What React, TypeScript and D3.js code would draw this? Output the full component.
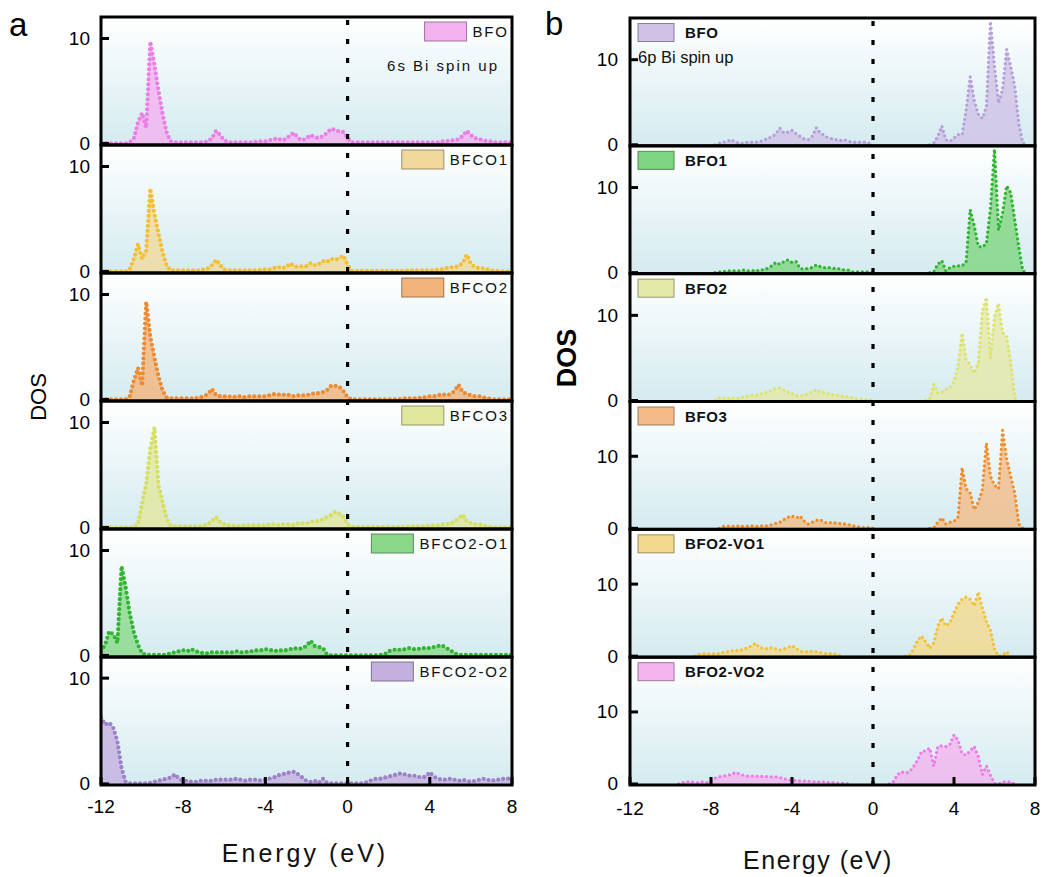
import React, { useMemo } from "react";
import * as d3 from "d3";

// ---------------- DATA ----------------
// energy grid (eV), step 0.2 from -12 to 8
const energies: number[] = d3.range(101).map((i) => +(-12 + i * 0.2).toFixed(1));

const namesA = ["BFO", "BFCO1", "BFCO2", "BFCO3", "BFCO2-O1", "BFCO2-O2"];
const namesB = ["BFO", "BFO1", "BFO2", "BFO3", "BFO2-VO1", "BFO2-VO2"];
const xTicks = [-12, -8, -4, 0, 4, 8];
const yTicks = [0, 10];
const annotationA = "6s Bi spin up";
const annotationB = "6p Bi spin up";

// Panel a: 6s Bi spin up
const a_BFO = [
  0, 0, 0, 0, 0, 0, 0, 0.1, 0.5, 2.0,
  2.9, 1.5, 9.7, 7.5, 5.0, 2.8, 1.0, 0.2, 0.1, 0.1,
  0.1, 0.1, 0.1, 0.1, 0.1, 0.1, 0.2, 0.5, 1.2, 0.8,
  0.3, 0.1, 0.1, 0.1, 0.1, 0.1, 0.1, 0.1, 0.2, 0.2,
  0.2, 0.3, 0.4, 0.5, 0.3, 0.4, 0.8, 1.0, 0.5, 0.3,
  0.5, 0.8, 0.6, 0.5, 0.7, 1.0, 1.4, 1.3, 1.1, 1.1,
  0.5, 0.1, 0.1, 0.1, 0.1, 0.1, 0.1, 0.1, 0.1, 0.1,
  0.1, 0.1, 0.1, 0.1, 0.1, 0.1, 0.1, 0.1, 0.1, 0.1,
  0.1, 0.1, 0.1, 0.2, 0.2, 0.3, 0.3, 0.4, 0.7, 1.2,
  0.8, 0.5, 0.4, 0.3, 0.2, 0.2, 0.1, 0.1, 0.1, 0.1,
  0.1,
];
const a_BFCO1 = [
  0, 0, 0, 0, 0, 0, 0, 0.2, 1.2, 2.6,
  1.2, 2.0, 7.9, 5.5, 3.6, 1.8, 0.5, 0.1, 0.1, 0.1,
  0.1, 0.1, 0.1, 0.1, 0.1, 0.2, 0.3, 0.6, 1.1, 0.6,
  0.2, 0.1, 0.1, 0.1, 0.1, 0.1, 0.1, 0.1, 0.1, 0.2,
  0.2, 0.2, 0.3, 0.45, 0.3, 0.4, 0.76, 0.5, 0.4, 0.5,
  0.5, 0.8, 0.6, 0.7, 1.0, 0.9, 1.2, 1.1, 1.3, 1.5,
  0.6, 0.05, 0.05, 0.05, 0.05, 0.05, 0.05, 0.05, 0.05, 0.05,
  0.05, 0.05, 0.05, 0.05, 0.05, 0.1, 0.1, 0.1, 0.1, 0.1,
  0.1, 0.1, 0.2, 0.2, 0.3, 0.4, 0.4, 0.5, 0.8, 1.6,
  0.7, 0.4, 0.3, 0.3, 0.2, 0.1, 0.05, 0.05, 0, 0,
  0,
];
const a_BFCO2 = [
  0, 0, 0, 0, 0, 0, 0, 0.3, 1.8, 3.0,
  1.3, 9.3, 6.0, 4.0, 2.2, 0.8, 0.2, 0.1, 0.1, 0.1,
  0.1, 0.1, 0.1, 0.1, 0.2, 0.3, 0.5, 1.0, 0.4, 0.3,
  0.3, 0.3, 0.2, 0.3, 0.3, 0.2, 0.3, 0.3, 0.3, 0.3,
  0.3, 0.4, 0.5, 0.5, 0.4, 0.5, 0.4, 0.3, 0.4, 0.4,
  0.4, 0.5, 0.6, 0.6, 0.7, 0.9, 1.3, 1.3, 1.2, 0.8,
  0.2, 0, 0, 0, 0, 0, 0, 0, 0, 0,
  0, 0, 0, 0.05, 0.1, 0.1, 0.1, 0.1, 0.2, 0.2,
  0.3, 0.3, 0.4, 0.5, 0.4, 0.5, 0.8, 1.4, 0.7, 0.5,
  0.4, 0.3, 0.3, 0.2, 0.1, 0.05, 0, 0, 0, 0,
  0,
];
const a_BFCO3 = [
  0, 0, 0, 0, 0, 0, 0, 0, 0.05, 0.3,
  2.3, 4.2, 7.5, 9.5, 4.0, 2.4, 0.8, 0.2, 0.1, 0.1,
  0.1, 0.1, 0.1, 0.1, 0.1, 0.2, 0.3, 0.6, 1.0, 0.5,
  0.3, 0.2, 0.2, 0.1, 0.1, 0.2, 0.2, 0.2, 0.2, 0.2,
  0.2, 0.3, 0.3, 0.2, 0.3, 0.3, 0.3, 0.2, 0.4, 0.4,
  0.4, 0.5, 0.6, 0.6, 0.8, 1.0, 1.2, 1.5, 1.3, 1.0,
  0.3, 0.05, 0.05, 0.05, 0.05, 0.05, 0.05, 0.05, 0.05, 0.05,
  0.05, 0.05, 0.05, 0.05, 0.05, 0.1, 0.1, 0.1, 0.1, 0.1,
  0.2, 0.2, 0.2, 0.3, 0.3, 0.4, 0.5, 0.9, 1.2, 0.6,
  0.4, 0.3, 0.3, 0.2, 0.1, 0.05, 0, 0, 0, 0,
  0,
];
const a_BFCO2_O1 = [
  0.4, 1.0, 2.3, 2.0, 1.2, 8.5, 6.5, 4.0, 2.2, 1.0,
  0.2, 0.05, 0.05, 0.05, 0.05, 0.05, 0.1, 0.2, 0.3, 0.4,
  0.5, 0.4, 0.6, 0.4, 0.3, 0.2, 0.2, 0.3, 0.3, 0.3,
  0.3, 0.3, 0.3, 0.4, 0.3, 0.3, 0.4, 0.4, 0.5, 0.5,
  0.6, 0.5, 0.5, 0.4, 0.5, 0.5, 0.6, 0.7, 0.6, 0.7,
  0.9, 1.4, 0.9, 0.8, 0.7, 0.1, 0, 0, 0, 0,
  0, 0, 0, 0, 0, 0, 0, 0, 0.05, 0.1,
  0.4, 0.5, 0.6, 0.5, 0.6, 0.7, 0.6, 0.6, 0.7, 0.7,
  0.7, 0.8, 0.9, 0.95, 0.7, 0.5, 0.2, 0.05, 0.05, 0.05,
  0.05, 0.05, 0.05, 0.05, 0.05, 0.05, 0.05, 0.05, 0.05, 0.05,
  0.05,
];
const a_BFCO2_O2 = [
  6.3, 5.6, 5.8, 5.3, 4.0, 1.5, 0.2, 0.05, 0.05, 0.05,
  0.05, 0.05, 0.1, 0.2, 0.3, 0.4, 0.5, 0.6, 0.9, 0.5,
  0.3, 0.3, 0.2, 0.2, 0.3, 0.3, 0.3, 0.3, 0.4, 0.4,
  0.4, 0.4, 0.4, 0.5, 0.4, 0.3, 0.4, 0.4, 0.4, 0.3,
  0.4, 0.5, 0.6, 0.8, 0.9, 1.0, 1.1, 1.15, 0.9, 0.6,
  0.3, 0.2, 0.3, 0.1, 0.5, 0.1, 0.05, 0.05, 0.05, 0.05,
  0.05, 0.05, 0.05, 0.05, 0.1, 0.2, 0.4, 0.5, 0.5, 0.6,
  0.7, 0.8, 0.9, 1.0, 0.9, 0.8, 0.8, 0.7, 0.6, 0.7,
  1.1, 0.7, 0.5, 0.4, 0.4, 0.5, 0.4, 0.3, 0.4, 0.3,
  0.2, 0.3, 0.4, 0.5, 0.4, 0.3, 0.4, 0.4, 0.5, 0.5,
  0.6,
];

// Panel b: 6p Bi spin up
const b_BFO = [
  0, 0, 0, 0, 0, 0, 0, 0, 0, 0,
  0, 0, 0, 0, 0, 0, 0, 0, 0, 0,
  0, 0, 0.2, 0.3, 0.4, 0.6, 0.3, 0.2, 0.2, 0.3,
  0.3, 0.3, 0.4, 0.5, 0.8, 0.9, 1.3, 1.95, 1.4, 1.5,
  1.7, 1.3, 1.0, 0.7, 0.6, 1.0, 2.0, 1.4, 1.1, 0.8,
  0.7, 0.6, 0.5, 0.6, 0.4, 0.3, 0.3, 0.3, 0.3, 0.2,
  0, 0, 0, 0, 0, 0, 0, 0, 0, 0,
  0, 0, 0, 0, 0, 0.2, 1.0, 2.2, 0.6, 0.4,
  0.8, 1.2, 1.2, 4.1, 8.0, 5.2, 3.6, 3.1, 4.5, 14.5,
  9.2, 4.9, 6.5, 11.2, 9.2, 6.9, 2.5, 0.2, 0, 0,
  0,
];
const b_BFO1 = [
  0, 0, 0, 0, 0, 0, 0, 0, 0, 0,
  0, 0, 0, 0, 0, 0, 0, 0, 0, 0,
  0, 0, 0.1, 0.1, 0.2, 0.2, 0.2, 0.2, 0.3, 0.2,
  0.2, 0.3, 0.2, 0.4, 0.5, 0.8, 1.2, 1.0, 1.3, 1.5,
  1.2, 1.3, 0.5, 0.4, 0.5, 0.6, 0.9, 0.7, 0.6, 0.6,
  0.5, 0.5, 0.4, 0.3, 0.3, 0.1, 0.1, 0.1, 0.1, 0.1,
  0, 0, 0, 0, 0, 0, 0, 0, 0, 0,
  0, 0, 0, 0, 0, 0.1, 1.0, 1.4, 0.2, 0.6,
  0.75, 0.8, 0.8, 1.3, 7.4, 5.5, 3.1, 3.0, 3.4, 7.5,
  14.5, 5.0, 7.0, 10.2, 9.4, 6.2, 3.0, 0.2, 0, 0,
  0,
];
const b_BFO2 = [
  0, 0, 0, 0, 0, 0, 0, 0, 0, 0,
  0, 0, 0, 0, 0, 0, 0, 0, 0, 0,
  0, 0, 0.3, 0.3, 0.2, 0.3, 0.3, 0.2, 0.4, 0.5,
  0.6, 0.6, 0.7, 0.9, 1.0, 1.2, 1.4, 1.47, 1.2, 1.0,
  0.8, 0.6, 0.5, 0.6, 0.8, 1.0, 1.3, 1.0, 0.9, 0.8,
  0.7, 0.6, 0.5, 0.5, 0.4, 0.3, 0.2, 0.1, 0.1, 0.1,
  0, 0, 0, 0, 0, 0, 0, 0, 0, 0,
  0, 0, 0, 0, 0.2, 1.9, 0.9, 1.0, 1.3, 1.5,
  2.2, 4.0, 7.9, 4.8, 4.2, 3.2, 4.4, 10.5, 12.1, 5.0,
  9.8, 11.4, 8.0, 7.5, 4.5, 0.3, 0, 0, 0, 0,
  0,
];
const b_BFO3 = [
  0, 0, 0, 0, 0, 0, 0, 0, 0, 0,
  0, 0, 0, 0, 0, 0, 0, 0, 0, 0,
  0, 0, 0, 0.25, 0.3, 0.3, 0.25, 0.35, 0.25, 0.3,
  0.35, 0.25, 0.35, 0.35, 0.35, 0.5, 0.7, 0.85, 1.2, 1.55,
  1.7, 1.45, 1.7, 1.0, 0.6, 0.85, 1.1, 1.2, 0.85, 0.7,
  0.85, 0.7, 0.7, 0.6, 0.5, 0.35, 0.25, 0.1, 0.1, 0.1,
  0, 0, 0, 0, 0, 0, 0, 0, 0, 0,
  0, 0, 0, 0, 0, 0.1, 0.85, 1.45, 0.6, 0.85,
  1.0, 1.55, 8.4, 5.5, 4.9, 2.6, 3.6, 5.4, 11.8, 7.2,
  6.0, 5.5, 13.6, 9.6, 7.2, 4.9, 0.6, 0, 0, 0,
  0,
];
const b_BFO2_VO1 = [
  0, 0, 0, 0, 0, 0, 0, 0, 0, 0,
  0, 0, 0, 0, 0, 0, 0, 0.25, 0.35, 0.35,
  0.25, 0.35, 0.35, 0.5, 0.6, 0.7, 0.85, 0.7, 1.0, 1.1,
  1.45, 1.8, 1.2, 1.1, 1.0, 1.2, 1.0, 0.85, 1.0, 1.2,
  1.45, 1.1, 0.7, 0.6, 0.6, 0.7, 0.6, 0.5, 0.35, 0.35,
  0.35, 0.25, 0, 0, 0, 0, 0, 0, 0, 0,
  0, 0, 0, 0, 0, 0, 0, 0, 0, 0.1,
  1.0, 2.2, 2.8, 2.0, 1.1, 1.8, 4.2, 5.3, 4.2, 4.6,
  6.0, 7.2, 7.9, 8.2, 7.9, 7.0, 8.9, 6.7, 4.8, 3.6,
  1.0, 0, 0.1, 0.6, 0, 0, 0, 0, 0, 0,
  0,
];
const b_BFO2_VO2 = [
  0, 0, 0, 0, 0, 0, 0, 0, 0, 0,
  0, 0, 0, 0.2, 0.3, 0.3, 0.2, 0.2, 0.3, 0.2,
  0.5, 0.8, 1.0, 1.1, 1.2, 1.3, 1.6, 1.4, 1.2, 1.1,
  1.1, 1.1, 1.0, 1.1, 1.0, 1.0, 1.0, 0.9, 0.7, 0.6,
  0.5, 0.5, 0.4, 0.4, 0.4, 0.3, 0.3, 0.3, 0.3, 0.2,
  0.2, 0.1, 0.1, 0.1, 0, 0, 0, 0, 0, 0,
  0, 0, 0, 0, 0, 0.3, 1.25, 1.7, 1.5, 1.7,
  2.4, 3.3, 4.5, 4.6, 5.0, 2.5, 5.2, 5.3, 5.2, 5.5,
  6.8, 6.1, 4.2, 4.0, 4.6, 5.2, 3.8, 1.3, 2.5, 1.2,
  0.1, 0, 0.3, 0.3, 0.3, 0, 0, 0, 0, 0,
  0,
];

const seriesA = [a_BFO, a_BFCO1, a_BFCO2, a_BFCO3, a_BFCO2_O1, a_BFCO2_O2];
const seriesB = [b_BFO, b_BFO1, b_BFO2, b_BFO3, b_BFO2_VO1, b_BFO2_VO2];

const dotColorsA = ["#ec7ee8", "#f5bf35", "#ee8a32", "#d6df62", "#32b532", "#9d80c6"];
const fillColorsA = ["#f2b2ef", "#f1d99c", "#f3b47c", "#e2e79e", "#8ad98a", "#c3b0df"];
const dotColorsB = ["#b79fda", "#2fb52f", "#dde36c", "#ef8f2c", "#f4c13c", "#ec7ee6"];
const fillColorsB = ["#d0c2e6", "#7fd57f", "#e5e9a8", "#f2bb88", "#f2d98c", "#f3b4ef"];

// y-axis domains per subplot
const yDomainsA: [number, number][] = [
  [-0.15, 12.05], [-0.15, 12.05], [-0.15, 12.05], [-0.15, 12.05], [-0.15, 12.05], [-0.1, 12.0],
];
const yDomainsB: [number, number][] = [
  [-0.12, 14.9], [-0.12, 14.9], [-0.12, 14.9], [-0.14, 17.6], [-0.14, 17.6], [-0.14, 17.6],
];

const FONT = "Arial, 'Liberation Sans', Helvetica, sans-serif";

let _ctx: CanvasRenderingContext2D | null = null;
function textWidth(text: string, font: string, ls: number) {
  if (!_ctx) _ctx = document.createElement("canvas").getContext("2d");
  if (!_ctx) return text.length * 8;
  _ctx.font = font;
  return _ctx.measureText(text).width + ls * (text.length - 1);
}

type PanelCfg = {
  id: string;
  left: number;
  right: number;
  top: number;
  bottom: number;
  series: number[][];
  names: string[];
  dots: string[];
  fills: string[];
  domains: [number, number][];
  skipZeros: boolean;
  dotW: number;
  dotGap: number;
  legendRight: boolean;
  yLabelX: number;
  xLabelY: number;
};

function Panel({ cfg }: { cfg: PanelCfg }) {
  const x = d3.scaleLinear().domain([-12, 8]).range([cfg.left, cfg.right]);
  const h = (cfg.bottom - cfg.top) / 6;
  const subs = cfg.series.map((vals, i) => {
    const y0 = cfg.top + i * h;
    const y1 = y0 + h;
    const y = d3.scaleLinear().domain(cfg.domains[i]).range([y1, y0]);
    const pts = energies.map((e, j) => ({ e, v: vals[j] ?? 0, j }));
    const def = (d: { j: number }) =>
      !cfg.skipZeros ||
      (vals[d.j] ?? 0) > 0 ||
      (vals[d.j - 1] ?? 0) > 0 ||
      (vals[d.j + 1] ?? 0) > 0;
    const area = d3
      .area<{ e: number; v: number; j: number }>()
      .defined(def)
      .x((d) => x(d.e))
      .y0(y(0))
      .y1((d) => y(d.v));
    const line = d3
      .line<{ e: number; v: number; j: number }>()
      .defined(def)
      .x((d) => x(d.e))
      .y((d) => y(d.v));
    return { i, y0, y1, y, areaD: area(pts) || "", lineD: line(pts) || "" };
  });

  const legendFontA = `15px ${FONT}`;
  return (
    <g>
      <defs>
        {subs.map((s) => (
          <clipPath id={`${cfg.id}-clip-${s.i}`} key={s.i}>
            <rect x={cfg.left} y={s.y0} width={cfg.right - cfg.left} height={s.y1 - s.y0} />
          </clipPath>
        ))}
      </defs>
      {subs.map((s) => (
        <g key={s.i}>
          <rect
            x={cfg.left}
            y={s.y0}
            width={cfg.right - cfg.left}
            height={s.y1 - s.y0}
            fill="url(#bgGrad)"
          />
          <g clipPath={`url(#${cfg.id}-clip-${s.i})`}>
            <path d={s.areaD} fill={cfg.fills[s.i]} fillOpacity={0.8} stroke="none" />
            <path
              d={s.lineD}
              fill="none"
              stroke={cfg.dots[s.i]}
              strokeWidth={cfg.dotW}
              strokeLinecap="round"
              strokeDasharray={`0 ${cfg.dotGap}`}
            />
          </g>
        </g>
      ))}
      {/* Fermi level */}
      <line
        x1={x(0)}
        x2={x(0)}
        y1={cfg.top + 3}
        y2={cfg.bottom}
        stroke="#000"
        strokeWidth={3.2}
        strokeDasharray="5 14"
      />
      {/* y ticks and labels */}
      {subs.map((s) => (
        <g key={`yt${s.i}`}>
          {yTicks.map((t) => (
            <g key={t}>
              <line x1={cfg.left} x2={cfg.left + 8} y1={s.y(t)} y2={s.y(t)} stroke="#000" strokeWidth={3} />
              <text
                x={cfg.yLabelX}
                y={s.y(t)}
                textAnchor="end"
                dominantBaseline="central"
                fontFamily={FONT}
                fontSize={19}
                fill="#000"
              >
                {t}
              </text>
            </g>
          ))}
        </g>
      ))}
      {/* x ticks */}
      {xTicks.map((t) => (
        <g key={`xt${t}`}>
          <line x1={x(t)} x2={x(t)} y1={cfg.bottom} y2={cfg.bottom - 8} stroke="#000" strokeWidth={3} />
          <text
            x={x(t)}
            y={cfg.xLabelY}
            textAnchor="middle"
            fontFamily={FONT}
            fontSize={19}
            fill="#000"
          >
            {t}
          </text>
        </g>
      ))}
      {/* frames */}
      {subs.map((s) => (
        <rect
          key={`fr${s.i}`}
          x={cfg.left}
          y={s.y0}
          width={cfg.right - cfg.left}
          height={s.y1 - s.y0}
          fill="none"
          stroke="#000"
          strokeWidth={3}
        />
      ))}
      {/* legends */}
      {subs.map((s) => {
        const name = cfg.names[s.i];
        const cy = s.y0 + 14.5;
        if (cfg.legendRight) {
          const ls = 1.8;
          const tw = textWidth(name, legendFontA, ls);
          const tx = cfg.right - 5 - tw;
          return (
            <g key={`lg${s.i}`}>
              <rect
                x={tx - 6 - 42}
                y={cy - 9.5}
                width={42}
                height={19}
                fill={cfg.fills[s.i]}
                stroke={d3.color(cfg.fills[s.i])!.darker(1.2).formatHex()}
                strokeWidth={1}
              />
              <text
                x={tx}
                y={cy + 5.5}
                fontFamily={FONT}
                fontSize={15}
                letterSpacing={ls}
                fill="#111"
              >
                {name}
              </text>
            </g>
          );
        }
        return (
          <g key={`lg${s.i}`}>
            <rect
              x={cfg.left + 8}
              y={cy - 9}
              width={36}
              height={18}
              fill={cfg.fills[s.i]}
              stroke={d3.color(cfg.fills[s.i])!.darker(1.2).formatHex()}
              strokeWidth={1}
            />
            <text
              x={cfg.left + 55}
              y={cy + 5.5}
              fontFamily={FONT}
              fontSize={15}
              fontWeight="bold"
              letterSpacing={0.6}
              fill="#111"
            >
              {name}
            </text>
          </g>
        );
      })}
    </g>
  );
}

export default function App() {
  const cfgA: PanelCfg = {
    id: "pa",
    left: 101,
    right: 512,
    top: 17,
    bottom: 785,
    series: seriesA,
    names: namesA,
    dots: dotColorsA,
    fills: fillColorsA,
    domains: yDomainsA,
    skipZeros: false,
    dotW: 4.2,
    dotGap: 5,
    legendRight: true,
    yLabelX: 90,
    xLabelY: 813,
  };
  const cfgB: PanelCfg = {
    id: "pb",
    left: 630,
    right: 1035,
    top: 18,
    bottom: 785,
    series: seriesB,
    names: namesB,
    dots: dotColorsB,
    fills: fillColorsB,
    domains: yDomainsB,
    skipZeros: true,
    dotW: 3.3,
    dotGap: 4.8,
    legendRight: false,
    yLabelX: 618,
    xLabelY: 815,
  };
  const annFont = `15px ${FONT}`;
  const annLs = 2;
  const annW = useMemo(() => textWidth(annotationA, annFont, annLs), []);

  return (
    <svg
      width={1045}
      height={877}
      style={{ position: "absolute", left: 0, top: 0, background: "#fff" }}
      xmlns="http://www.w3.org/2000/svg"
    >
      <defs>
        <linearGradient id="bgGrad" x1="0" y1="0" x2="0" y2="1">
          <stop offset="0" stopColor="#ffffff" />
          <stop offset="1" stopColor="#d4ebf0" />
        </linearGradient>
      </defs>
      <rect x={0} y={0} width={1045} height={877} fill="#fff" />
      <Panel cfg={cfgA} />
      <Panel cfg={cfgB} />

      {/* annotations */}
      <text x={497 - annW} y={71} fontFamily={FONT} fontSize={15} letterSpacing={annLs} fill="#111">
        {annotationA}
      </text>
      <text x={638} y={63} fontFamily={FONT} fontSize={16.5} fill="#111">
        {annotationB}
      </text>

      {/* panel letters */}
      <text x={9} y={36} fontFamily={FONT} fontSize={33} fill="#000">
        a
      </text>
      <text x={545} y={35} fontFamily={FONT} fontSize={33} fill="#000">
        b
      </text>

      {/* axis titles */}
      <text
        transform="translate(38,397) rotate(-90)"
        textAnchor="middle"
        dominantBaseline="central"
        fontFamily={FONT}
        fontSize={22}
        fill="#000"
      >
        DOS
      </text>
      <text
        transform="translate(567,358) rotate(-90)"
        textAnchor="middle"
        dominantBaseline="central"
        fontFamily={FONT}
        fontSize={27}
        fontWeight="bold"
        fill="#000"
      >
        DOS
      </text>
      <text x={305} y={862} textAnchor="middle" fontFamily={FONT} fontSize={25} letterSpacing={3} fill="#111">
        Energy (eV)
      </text>
      <text x={818} y={869} textAnchor="middle" fontFamily={FONT} fontSize={25} letterSpacing={1.5} fill="#111">
        Energy (eV)
      </text>
    </svg>
  );
}
